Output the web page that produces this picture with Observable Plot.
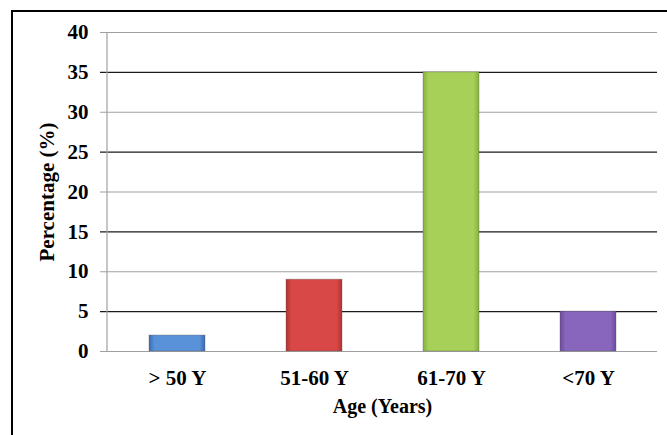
<!DOCTYPE html>
<html>
<head>
<meta charset="utf-8">
<script src="https://cdn.jsdelivr.net/npm/d3@7"></script>
<script src="https://cdn.jsdelivr.net/npm/@observablehq/plot@0.6"></script>
<style>
  html, body { margin: 0; padding: 0; background: #fff; overflow: hidden; }
  #wrap { position: relative; width: 667px; height: 435px; overflow: hidden; background: #fff; }
  #border { position: absolute; left: 11px; top: 10px; width: 700px; height: 500px; border: 2px solid #000; box-sizing: border-box; pointer-events: none; }
  #chart { position: absolute; left: 0; top: 0; }
</style>
</head>
<body>
<div id="wrap"><div id="chart"></div><div id="border"></div></div>
<script>
const categories = ["> 50 Y", "51-60 Y", "61-70 Y", "<70 Y"];
const values = [2, 9, 35, 5];
const yTicks = [0, 5, 10, 15, 20, 25, 30, 35, 40];
const xTitle = "Age (Years)";
const yTitle = "Percentage (%)";

const baseColors = [
  ["#3a6bb0", "#5a92da", "#3a6bb0", "#7fb0ec"],
  ["#b03232", "#d84846", "#b03232", "#e67472"],
  ["#88b03e", "#a6d057", "#88b03e", "#c2e67e"],
  ["#6a4b9a", "#8966bd", "#6a4b9a", "#a78bd6"]
];
const gradIds = categories.map((_, i) => `barGrad${i}`);

const data = categories.map((c, i) => ({ category: c, value: values[i] }));

const svgNS = "http://www.w3.org/2000/svg";
function defsMark() {
  const g = document.createElementNS(svgNS, "g");
  const defs = document.createElementNS(svgNS, "defs");
  baseColors.forEach((cols, i) => {
    const lg = document.createElementNS(svgNS, "linearGradient");
    lg.setAttribute("id", gradIds[i]);
    lg.setAttribute("x1", "0"); lg.setAttribute("x2", "1");
    lg.setAttribute("y1", "0"); lg.setAttribute("y2", "0");
    [[0, cols[0]], [0.1, cols[1]], [0.9, cols[1]], [1, cols[2]]].forEach(([o, c]) => {
      const s = document.createElementNS(svgNS, "stop");
      s.setAttribute("offset", o);
      s.setAttribute("stop-color", c);
      lg.appendChild(s);
    });
    defs.appendChild(lg);
  });
  g.appendChild(defs);
  return g;
}

function yAxisLine(index, scales, values, dims) {
  const l = document.createElementNS(svgNS, "line");
  l.setAttribute("x1", dims.marginLeft);
  l.setAttribute("x2", dims.marginLeft);
  l.setAttribute("y1", dims.marginTop);
  l.setAttribute("y2", dims.height - dims.marginBottom);
  l.setAttribute("stroke", "#a0a0a0");
  l.setAttribute("stroke-width", "1.2");
  return l;
}

const chart = Plot.plot({
  width: 667,
  height: 435,
  marginLeft: 107,
  marginRight: 10,
  marginTop: 32,
  marginBottom: 84,
  style: {
    fontFamily: "'Liberation Serif', 'Times New Roman', serif",
    fontWeight: "bold",
    fontSize: "21px",
    color: "#000",
    background: "transparent"
  },
  x: { domain: categories, paddingInner: 0.593, paddingOuter: 0.2965, label: null },
  y: { domain: [0, 40], label: null },
  color: { domain: categories, range: gradIds.map(id => `url(#${id})`) },
  marks: [
    defsMark,
    Plot.ruleY(yTicks, {
      stroke: d => (d % 10 === 0 ? "#a0a0a0" : "#1a1a1a"),
      strokeWidth: 1.2,
      insetLeft: -7
    }),
    yAxisLine,
    Plot.barY(data, {
      x: "category",
      y: "value",
      fill: "category",
      stroke: "#555",
      strokeOpacity: 0.35,
      strokeWidth: 1
    }),
    Plot.barY(data, {
      x: "category",
      y1: "value",
      y2: "value",
      fill: "category",
      stroke: (d, i) => baseColors[i][3],
      strokeWidth: 3,
      insetTop: 1.5,
      insetLeft: 2,
      insetRight: 2
    }),
    Plot.axisY({
      ticks: yTicks,
      tickSize: 0,
      tickPadding: 19,
      tickFormat: d => String(d),
      label: null
    }),
    Plot.axisX({
      tickSize: 0,
      tickPadding: 19,
      label: null
    }),
    Plot.text([yTitle], {
      frameAnchor: "left",
      textAnchor: "middle",
      rotate: -90,
      dx: -60,
      lineAnchor: "middle",
      fontSize: 21,
      fill: "#000"
    }),
    Plot.text([xTitle], {
      frameAnchor: "bottom",
      dy: 55,
      lineAnchor: "middle",
      fontSize: 20,
      fill: "#000"
    })
  ]
});

document.getElementById("chart").appendChild(chart);
</script>
</body>
</html>
